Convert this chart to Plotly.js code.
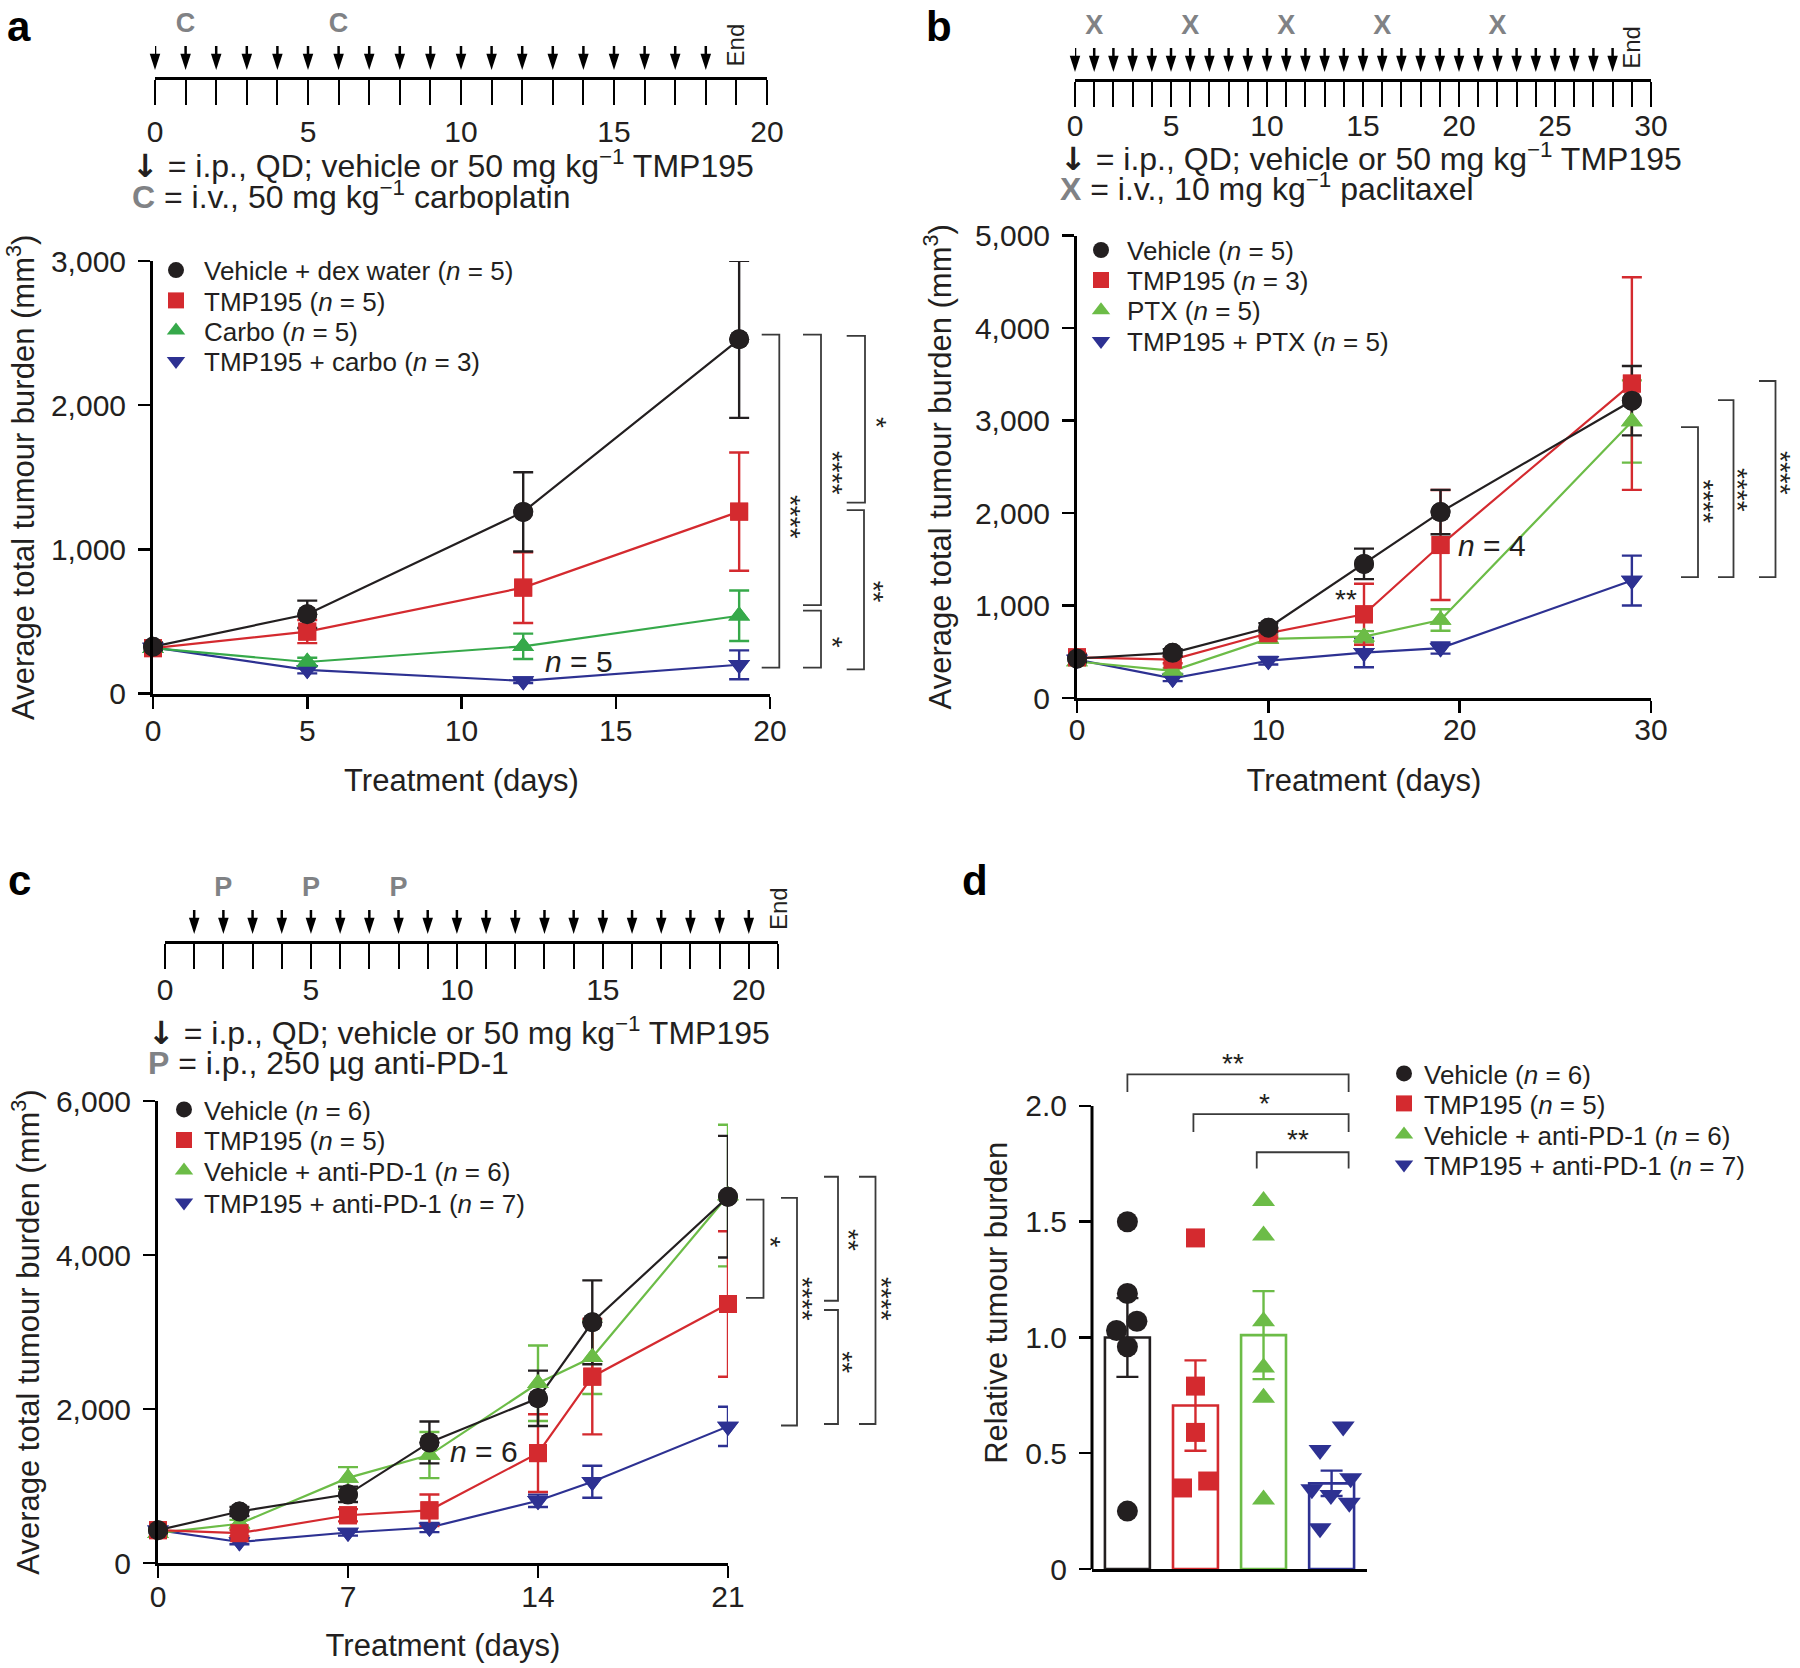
<!DOCTYPE html>
<html><head><meta charset="utf-8">
<script src="https://cdn.plot.ly/plotly-3.0.1.min.js"></script>
<style>body{margin:0;background:#fff}#chart{width:1800px;height:1668px}</style>
</head><body><div id="chart"></div>
<script>
// ---------------- DATA ----------------
// panel a
const aDays = [0, 5, 12, 19];
const aVehicle = [325, 550, 1260, 2457];
const aVehicleSem = [30, 95, 275, 545];
const aTmp195 = [315, 430, 735, 1262];
const aTmp195Sem = [25, 80, 245, 410];
const aCarbo = [315, 219, 328, 540];
const aCarboSem = [25, 30, 88, 175];
const aCombo = [320, 165, 88, 200];
const aComboSem = [20, 25, 15, 100];
const aDoseDays = [0, 1, 2, 3, 4, 5, 6, 7, 8, 9, 10, 11, 12, 13, 14, 15, 16, 17, 18];
const aCarboDays = [1, 6];
const aEndDay = 19;
const aNames = ['Vehicle + dex water (<i>n</i> = 5)', 'TMP195 (<i>n</i> = 5)', 'Carbo (<i>n</i> = 5)', 'TMP195 + carbo (<i>n</i> = 3)'];

// panel b
const bDays = [0, 5, 10, 15, 19, 29];
const bVehicle = [427, 488, 760, 1450, 2010, 3215];
const bVehicleSem = [40, 40, 50, 165, 240, 375];
const bTmp195 = [440, 415, 700, 905, 1654, 3400];
const bTmp195Sem = [40, 40, 45, 330, 595, 1150];
const bPtx = [395, 293, 639, 663, 843, 2990];
const bPtxSem = [30, 30, 40, 60, 116, 445];
const bCombo = [415, 212, 403, 490, 540, 1270];
const bComboSem = [30, 30, 40, 158, 60, 270];
const bDoseDays = [0, 1, 2, 3, 4, 5, 6, 7, 8, 9, 10, 11, 12, 13, 14, 15, 16, 17, 18, 19, 20, 21, 22, 23, 24, 25, 26, 27, 28];
const bPtxDays = [1, 6, 11, 16, 22];
const bEndDay = 29;
const bNames = ['Vehicle (<i>n</i> = 5)', 'TMP195 (<i>n</i> = 3)', 'PTX (<i>n</i> = 5)', 'TMP195 + PTX (<i>n</i> = 5)'];

// panel c
const cDays = [0, 3, 7, 10, 14, 16, 21];
const cVehicle = [426, 669, 892, 1566, 2139, 3126, 4757];
const cVehicleSem = [40, 60, 100, 272, 360, 545, 790];
const cTmp195 = [426, 387, 620, 684, 1427, 2420, 3364];
const cTmp195Sem = [40, 40, 80, 205, 505, 750, 945];
const cPd1 = [387, 510, 1105, 1402, 2334, 2671, 4772];
const cPd1Sem = [40, 50, 140, 300, 490, 476, 920];
const cCombo = [426, 273, 396, 461, 808, 1055, 1774];
const cComboSem = [30, 30, 40, 60, 80, 208, 255];
const cDoseDays = [1, 2, 3, 4, 5, 6, 7, 8, 9, 10, 11, 12, 13, 14, 15, 16, 17, 18, 19, 20];
const cPd1Days = [2, 5, 8];
const cEndDay = 21;
const cNames = ['Vehicle (<i>n</i> = 6)', 'TMP195 (<i>n</i> = 5)', 'Vehicle + anti-PD-1 (<i>n</i> = 6)', 'TMP195 + anti-PD-1 (<i>n</i> = 7)'];

// panel d
const dGroups = [0, 1, 2, 3];
const dMeans = [1.00, 0.706, 1.01, 0.37];
const dSem = [0.17, 0.195, 0.19, 0.055];
const dVehiclePts = [1.50, 1.19, 1.07, 1.03, 0.96, 0.25];
const dTmp195Pts = [1.43, 0.79, 0.59, 0.35, 0.38];
const dPd1Pts = [1.59, 1.44, 1.07, 0.87, 0.74, 0.30];
const dComboPts = [0.615, 0.514, 0.392, 0.344, 0.32, 0.286, 0.176];
const dNames = cNames;

// ---------------- STYLE / LAYOUT HELPERS ----------------
const W = 1800, H = 1668;
const FONT = '"Liberation Sans", Arial, sans-serif';
const INK = '#231f20';
const BLACK = '#231f20', RED = '#d42a2f', GREEN_A = '#36a94a', GREEN = '#6cbc47', BLUE = '#2d3192', GRAY = '#808285';
const dx = (a, b) => [a / W, b / W];
const dy = (top, bottom) => [1 - bottom / H, 1 - top / H];
const px = v => v / W, py = v => 1 - v / H;

// swarm offsets for panel d points (layout only)
const dJit = [[0, 0, 0.14, -0.16, 0, 0], [0, 0, 0, -0.19, 0.18], [0, 0, 0, 0, 0, 0], [0.17, -0.17, 0.28, -0.29, -0.01, 0.26, -0.17]];

const traces = [];
const legends = {};
let legendCount = 2;
// one legend box per row so that row spacing matches the figure
function rowLegend(leftPx, rowPx, itemwidth) {
  const id = 'legend' + (legendCount++);
  legends[id] = {x: px(leftPx), y: py(rowPx - 24), xanchor: 'left', yanchor: 'top',
    font: {size: 26, family: FONT, color: INK}, bgcolor: 'rgba(0,0,0,0)', itemwidth: itemwidth, borderwidth: 0};
  return id;
}

function series(days, vals, sem, name, color, symbol, size, xa, ya, legendId) {
  traces.push({
    x: days, y: vals, mode: 'lines+markers', xaxis: xa, yaxis: ya, showlegend: false,
    line: {color: color, width: 2.2}, marker: {symbol: symbol, size: size, color: color},
    error_y: {type: 'data', array: sem, visible: true, color: color, thickness: 2.4, width: 10},
    cliponaxis: false, hoverinfo: 'skip'
  });
  return {
    x: days, y: vals, mode: 'markers', xaxis: xa, yaxis: ya, name: name, legend: legendId,
    marker: {symbol: symbol, size: size, color: color}, cliponaxis: false, hoverinfo: 'skip'
  };
}
function panelLines(days, sets, xa, ya, legLeft, legRows, itemwidth) {
  const ids = legRows.map(r => rowLegend(legLeft, r, itemwidth));
  const legendTraces = [];
  // drawn in reverse so the first series sits on top
  for (let i = sets.length - 1; i >= 0; i--) {
    const s = sets[i];
    legendTraces.push(series(days, s[0], s[1], s[2], s[3], s[4], s[5], xa, ya, ids[i]));
  }
  legendTraces.forEach(t => traces.push(t));
}

panelLines(aDays, [
  [aVehicle, aVehicleSem, aNames[0], BLACK, 'circle', 20],
  [aTmp195, aTmp195Sem, aNames[1], RED, 'square', 18],
  [aCarbo, aCarboSem, aNames[2], GREEN_A, 'triangle-up', 19],
  [aCombo, aComboSem, aNames[3], BLUE, 'triangle-down', 19]
], 'x', 'y', 148, [270.7, 301, 331, 361.6], 46);

panelLines(bDays, [
  [bVehicle, bVehicleSem, bNames[0], BLACK, 'circle', 20],
  [bTmp195, bTmp195Sem, bNames[1], RED, 'square', 18],
  [bPtx, bPtxSem, bNames[2], GREEN, 'triangle-up', 19],
  [bCombo, bComboSem, bNames[3], BLUE, 'triangle-down', 19]
], 'x2', 'y2', 1075, [250.6, 280.7, 310.8, 341.7], 42);

panelLines(cDays, [
  [cVehicle, cVehicleSem, cNames[0], BLACK, 'circle', 20],
  [cTmp195, cTmp195Sem, cNames[1], RED, 'square', 18],
  [cPd1, cPd1Sem, cNames[2], GREEN, 'triangle-up', 19],
  [cCombo, cComboSem, cNames[3], BLUE, 'triangle-down', 19]
], 'x3', 'y3', 164, [1110, 1140.5, 1171, 1203], 30);

// panel d bars + points
const dColors = [BLACK, RED, GREEN, BLUE];
const dSymbols = ['circle', 'square', 'triangle-up', 'triangle-down'];
const dSizes = [21, 19, 20, 20];
const dPts = [dVehiclePts, dTmp195Pts, dPd1Pts, dComboPts];
const dLegRows = [1074, 1104, 1135, 1165];
dGroups.forEach((g, i) => {
  traces.push({
    type: 'bar', x: [g], y: [dMeans[i]], xaxis: 'x4', yaxis: 'y4', width: 0.66, showlegend: false,
    marker: {color: 'rgba(255,255,255,0)', line: {color: dColors[i], width: 2.6}},
    error_y: {type: 'data', array: [dSem[i]], visible: true, color: dColors[i], thickness: 2.4, width: 11},
    hoverinfo: 'skip'
  });
});
dGroups.forEach((g, i) => {
  traces.push({
    type: 'scatter', mode: 'markers', xaxis: 'x4', yaxis: 'y4', legend: rowLegend(1384, dLegRows[i], 30), name: dNames[i],
    x: dPts[i].map((v, k) => g + dJit[i][k]), y: dPts[i],
    marker: {symbol: dSymbols[i], size: dSizes[i], color: dColors[i]}, cliponaxis: false, hoverinfo: 'skip'
  });
});

// timelines: dose arrows + drug letters
const ARROW_TIP = 7, ARROW_TAIL = 31, LETTER_Y = 52, END_Y = 32;
function timeline(doseDays, drugDays, letter, xa, ya) {
  const sx = [], sy = [];
  doseDays.forEach(d => { sx.push(d, d, null); sy.push(ARROW_TIP + 6, ARROW_TAIL, null); });
  traces.push({x: sx, y: sy, mode: 'lines', xaxis: xa, yaxis: ya, line: {color: '#000', width: 2.5},
    showlegend: false, hoverinfo: 'skip', cliponaxis: false});
  traces.push({x: doseDays, y: doseDays.map(() => ARROW_TIP), mode: 'markers', xaxis: xa, yaxis: ya,
    marker: {symbol: 'arrow', angle: 180, size: 17, color: '#000'}, showlegend: false, hoverinfo: 'skip', cliponaxis: false});
  traces.push({x: drugDays, y: drugDays.map(() => LETTER_Y), mode: 'text', text: drugDays.map(() => '<b>' + letter + '</b>'),
    textfont: {size: 27, color: GRAY, family: FONT}, xaxis: xa, yaxis: ya, showlegend: false, hoverinfo: 'skip', cliponaxis: false});
}
timeline(aDoseDays, aCarboDays, 'C', 'x5', 'y5');
timeline(bDoseDays, bPtxDays, 'X', 'x6', 'y6');
timeline(cDoseDays, cPd1Days, 'P', 'x7', 'y7');

// ---------------- AXES ----------------
const tickFont = {size: 30, color: INK, family: FONT};
function mainX(domain, range, tickvals, anchor, labelShift, titleStandoff) {
  return {domain: domain, range: range, anchor: anchor, tickmode: 'array', tickvals: tickvals,
    showline: true, linewidth: 3, linecolor: '#000', ticks: 'outside', ticklen: 12, tickwidth: 2.5, tickcolor: '#000',
    showgrid: false, zeroline: false, tickfont: tickFont, ticklabelstandoff: labelShift,
    title: {text: 'Treatment (days)', font: {size: 31, color: INK, family: FONT}, standoff: titleStandoff}, fixedrange: true};
}
function mainY(domain, range, dtick, anchor, title, titleStandoff) {
  return {domain: domain, range: range, anchor: anchor, dtick: dtick, tick0: 0, tickformat: ',d',
    showline: true, linewidth: 3, linecolor: '#000', ticks: 'outside', ticklen: 12, tickwidth: 2.5, tickcolor: '#000',
    showgrid: false, zeroline: false, tickfont: tickFont, ticklabelstandoff: 6,
    title: {text: title, font: {size: 31, color: INK, family: FONT}, standoff: titleStandoff}, fixedrange: true};
}
function tlX(domain, range, anchor, labelShift) {
  return {domain: domain, range: range, anchor: anchor, tickmode: 'linear', tick0: 0, dtick: 5,
    showline: true, linewidth: 3, linecolor: '#000', ticks: 'outside', ticklen: 25, tickwidth: 2, tickcolor: '#000',
    minor: {ticks: 'outside', tickmode: 'linear', tick0: 0, dtick: 1, ticklen: 25, tickwidth: 2, tickcolor: '#000'},
    showgrid: false, zeroline: false, tickfont: tickFont, ticklabelstandoff: labelShift, fixedrange: true};
}
function tlY(domain, anchor) {
  return {domain: domain, range: [0, 75], anchor: anchor, visible: false, fixedrange: true};
}
const TUMOUR = 'Average total tumour burden (mm<sup>3</sup>)';

const layout = Object.assign({
  width: W, height: H, margin: {l: 0, r: 0, t: 0, b: 0}, paper_bgcolor: '#fff', plot_bgcolor: 'rgba(0,0,0,0)',
  font: {family: FONT, color: INK}, barmode: 'overlay', hovermode: false, showlegend: true,
  xaxis: mainX(dx(153, 770), [0, 20], [0, 5, 10, 15, 20], 'y', -4, 24),
  yaxis: mainY(dy(261, 693.6), [0, 3000], 1000, 'x', TUMOUR, 8),
  xaxis2: mainX(dx(1077, 1651), [0, 30], [0, 10, 20, 30], 'y2', -9, 25),
  yaxis2: mainY(dy(235.6, 698), [0, 5000], 1000, 'x2', TUMOUR, 15),
  xaxis3: mainX(dx(158, 728), [0, 21], [0, 7, 14, 21], 'y3', -7, 23),
  yaxis3: mainY(dy(1101, 1563), [0, 6000], 2000, 'x3', TUMOUR, 8),
  xaxis4: {domain: dx(1092, 1367), range: [-0.52, 3.52], anchor: 'y4', showline: true, linewidth: 3, linecolor: '#000',
    ticks: '', showticklabels: false, showgrid: false, zeroline: false, fixedrange: true},
  yaxis4: {domain: dy(1036.5, 1569), range: [0, 2.3], anchor: 'x4', tickmode: 'array', tickvals: [0, 0.5, 1, 1.5, 2],
    ticktext: ['0', '0.5', '1.0', '1.5', '2.0'], showline: false, ticks: 'outside', ticklen: 12, tickwidth: 2.5, tickcolor: '#000',
    showgrid: false, zeroline: false, tickfont: tickFont, ticklabelstandoff: 6,
    title: {text: 'Relative tumour burden', font: {size: 31, color: INK, family: FONT}, standoff: 8}, fixedrange: true},
  xaxis5: tlX(dx(155, 767), [0, 20], 'y5', 1), yaxis5: tlY(dy(2, 77), 'x5'),
  xaxis6: tlX(dx(1075, 1651), [0, 30], 'y6', -7), yaxis6: tlY(dy(4, 79), 'x6'),
  xaxis7: tlX(dx(165, 778), [0, 21], 'y7', -5), yaxis7: tlY(dy(866, 941), 'x7'),
  shapes: [], annotations: []
}, legends);

// d y-axis spine (stops at 2.0)
layout.shapes.push({type: 'line', xref: 'x4 domain', yref: 'y4', x0: 0, x1: 0, y0: 0, y1: 2, line: {color: '#000', width: 3}});

// significance brackets (vertical, to the right of panels a-c)
const BR = {color: '#3a3a3a', width: 1.8};
function vBracket(xlPx, xvPx, yt, yb, yref) {
  layout.shapes.push({type: 'path', xref: 'paper', yref: yref,
    path: `M${px(xlPx)},${yt} L${px(xvPx)},${yt} L${px(xvPx)},${yb} L${px(xlPx)},${yb}`, line: BR});
}
function star(xPx, y, yref, text) {
  layout.annotations.push({xref: 'paper', yref: yref, x: px(xPx), y: y, text: text, showarrow: false,
    textangle: 90, font: {size: 28, color: INK, family: FONT}, xanchor: 'center', yanchor: 'middle', xshift: -6});
}
// a
vBracket(761.7, 779.3, 2490, 180, 'y'); star(796.7, 1227, 'y', '****');
vBracket(803, 821, 2490, 614, 'y'); star(838, 1530, 'y', '****');
vBracket(846.7, 865, 2481, 1324, 'y'); star(882.7, 1879, 'y', '*');
vBracket(846.7, 864, 1273, 168, 'y'); star(879, 707, 'y', '**');
vBracket(803, 821, 575, 180, 'y'); star(838, 360, 'y', '*');
// b
vBracket(1681, 1698, 2930, 1308, 'y2'); star(1709, 2124, 'y2', '****');
vBracket(1718, 1733.5, 3222, 1308, 'y2'); star(1744, 2249, 'y2', '****');
vBracket(1759, 1775.5, 3428, 1308, 'y2'); star(1787, 2433, 'y2', '****');
// c
vBracket(746, 763.5, 4718, 3442, 'y3'); star(776, 4174, 'y3', '*');
vBracket(781, 797, 4743, 1786, 'y3'); star(808, 3429, 'y3', '****');
vBracket(824, 838, 5016, 3406, 'y3'); star(854, 4195, 'y3', '**');
vBracket(824, 838, 3286, 1805, 'y3'); star(848.5, 2613, 'y3', '**');
vBracket(859, 875.5, 5016, 1805, 'y3'); star(887, 3429, 'y3', '****');
// d (horizontal brackets)
function hBracket(g0, g1, yTop, yLeg, label, labelX, labelY) {
  layout.shapes.push({type: 'path', xref: 'x4', yref: 'y4',
    path: `M${g0},${yLeg} L${g0},${yTop} L${g1},${yTop} L${g1},${yLeg}`, line: BR});
  layout.annotations.push({xref: 'x4', yref: 'y4', x: labelX, y: labelY, text: label, showarrow: false,
    font: {size: 28, color: INK, family: FONT}, yshift: -6});
}
hBracket(0, 3.25, 2.136, 2.06, '**', 1.55, 2.21);
hBracket(0.97, 3.25, 1.965, 1.888, '*', 2.01, 2.035);
hBracket(1.9, 3.25, 1.80, 1.73, '**', 2.51, 1.88);

// in-plot text
function note(xref, yref, x, y, text) {
  layout.annotations.push({xref: xref, yref: yref, x: x, y: y, text: text, showarrow: false,
    font: {size: 30, color: INK, family: FONT}});
}
note('x', 'y', 13.8, 226, '<i>n</i> = 5');
note('x2', 'y2', 21.7, 1654, '<i>n</i> = 4');
layout.annotations.push({xref: 'x2', yref: 'y2', x: 14.07, y: 1132, text: '**', showarrow: false,
  font: {size: 28, color: INK, family: FONT}, yshift: -6});
note('x3', 'y3', 12.0, 1449, '<i>n</i> = 6');

// timeline End labels and keys
function endLabel(xa, ya, day) {
  layout.annotations.push({xref: xa, yref: ya, x: day, y: END_Y, text: 'End', textangle: -90, showarrow: false,
    font: {size: 24, color: INK, family: FONT}});
}
endLabel('x5', 'y5', aEndDay); endLabel('x6', 'y6', bEndDay); endLabel('x7', 'y7', cEndDay);
function key(xPx, yPx, text) {
  layout.annotations.push({xref: 'paper', yref: 'paper', x: px(xPx), y: py(yPx), text: text, showarrow: false,
    xanchor: 'left', yanchor: 'middle', font: {size: 32, color: INK, family: FONT}});
}
const ARW = '<span style="font-family:DejaVu Sans;font-weight:bold">↓</span>';
const g = (t) => '<b><span style="color:' + GRAY + '">' + t + '</span></b>';
key(130, 164, ARW + ' = i.p., QD; vehicle or 50 mg kg<sup>−1</sup> TMP195');
key(130, 195, g('C') + ' = i.v., 50 mg kg<sup>−1</sup> carboplatin');
key(1058, 158, ARW + ' = i.p., QD; vehicle or 50 mg kg<sup>−1</sup> TMP195');
key(1058, 187, g('X') + ' = i.v., 10 mg kg<sup>−1</sup> paclitaxel');
key(146, 1031, ARW + ' = i.p., QD; vehicle or 50 mg kg<sup>−1</sup> TMP195');
key(146, 1063, g('P') + ' = i.p., 250 µg anti-PD-1');

// panel letters
function panelLetter(xPx, yPx, t) {
  layout.annotations.push({xref: 'paper', yref: 'paper', x: px(xPx), y: py(yPx), text: '<b>' + t + '</b>', showarrow: false,
    xanchor: 'center', yanchor: 'middle', font: {size: 42, color: '#000', family: FONT}});
}
panelLetter(19, 26, 'a'); panelLetter(939, 26, 'b'); panelLetter(19, 880, 'c'); panelLetter(975, 880, 'd');

Plotly.newPlot('chart', traces, layout, {staticPlot: true});
</script>
</body></html>
